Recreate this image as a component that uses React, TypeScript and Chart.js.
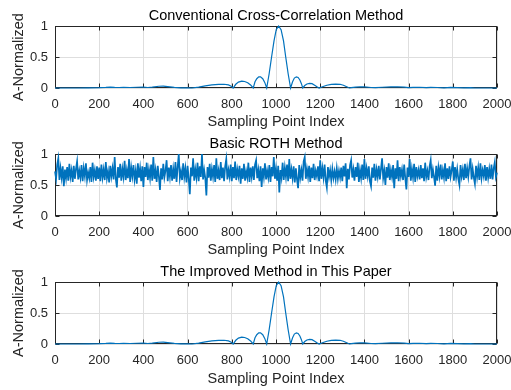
import React, { useEffect, useRef } from "react";
import { Chart, registerables } from "chart.js";

Chart.register(...registerables);

const FONT = 'Arial, "Liberation Sans", Helvetica, sans-serif';

// Sample index for sinc-like correlation curves (sparse)
const ccIndex = [0, 100, 150, 200, 230, 250, 270, 290, 310, 340, 370, 400, 420, 440, 470, 490, 510, 540, 570, 600,
  620, 650, 680, 710, 740, 765, 785, 797, 806, 818, 830, 845, 858, 872, 885, 897, 905, 913, 922, 930,
  940, 949, 958, 969, 980, 991, 1001, 1012, 1023, 1034, 1044, 1055, 1066, 1075, 1083, 1092, 1100, 1108, 1115, 1121,
  1130, 1140, 1152, 1163, 1175, 1187, 1195, 1210, 1230, 1250, 1270, 1290, 1305, 1320, 1332, 1340, 1360, 1380, 1400, 1430,
  1450, 1480, 1520, 1550, 1580, 1600, 1620, 1650, 1680, 1700, 1730, 1760, 1790, 1820, 1850, 1880, 1900, 2000];

const conventionalValues = [0, 0, 0.002, 0.005, 0.01, 0.015, 0.01, 0.008, 0.012, 0.008, 0.012, 0.015, 0.008, 0.015, 0.028, 0.03, 0.022, 0.01, 0.003, 0.002,
  0, 0.015, 0.035, 0.05, 0.058, 0.06, 0.05, 0.03, 0, 0.06, 0.095, 0.11, 0.105, 0.085, 0.05, 0, 0.1, 0.15, 0.18, 0.18,
  0.15, 0.09, 0, 0.23, 0.5, 0.76, 0.94, 1, 0.94, 0.76, 0.5, 0.23, 0, 0.1, 0.16, 0.18, 0.17, 0.13, 0.07, 0,
  0.04, 0.065, 0.075, 0.07, 0.045, 0.015, 0, 0.02, 0.045, 0.058, 0.062, 0.06, 0.045, 0.02, 0, 0.005, 0.015, 0.02, 0.018, 0.008,
  0.005, 0.012, 0.018, 0.02, 0.015, 0.005, 0.01, 0.012, 0.005, 0.01, 0.008, 0.003, 0.01, 0.007, 0.003, 0.005, 0, 0];

const improvedValues = [0, 0, 0.002, 0.005, 0.01, 0.015, 0.01, 0.008, 0.012, 0.008, 0.012, 0.015, 0.008, 0.015, 0.028, 0.03, 0.022, 0.01, 0.003, 0.002,
  0, 0.015, 0.035, 0.05, 0.058, 0.06, 0.05, 0.03, 0, 0.06, 0.095, 0.11, 0.105, 0.085, 0.05, 0, 0.1, 0.15, 0.18, 0.18,
  0.15, 0.09, 0, 0.23, 0.5, 0.76, 0.94, 1, 0.94, 0.76, 0.5, 0.23, 0, 0.1, 0.16, 0.18, 0.17, 0.13, 0.07, 0,
  0.04, 0.065, 0.075, 0.07, 0.045, 0.015, 0, 0.02, 0.045, 0.058, 0.062, 0.06, 0.045, 0.02, 0, 0.005, 0.015, 0.02, 0.018, 0.008,
  0.005, 0.012, 0.018, 0.02, 0.015, 0.005, 0.01, 0.012, 0.005, 0.01, 0.008, 0.003, 0.01, 0.007, 0.003, 0.005, 0, 0];

// Basic ROTH: one value per 5 samples (0..2000)
const ROTH_STEP = 5;
const rothValues = [
  0.72, 0.60, 0.83, 0.93, 0.58, 0.77, 0.62, 0.80, 0.48, 0.75, 0.61, 0.79, 0.57, 0.84, 0.63, 0.74, 0.55, 0.81, 0.60, 0.76,
  0.88, 0.59, 0.73, 0.62, 0.82, 0.56, 0.77, 0.64, 0.85, 0.58, 0.70, 0.61, 0.79, 0.55, 0.86, 0.63, 0.74, 0.57, 0.80, 0.60,
  0.78, 0.56, 0.83, 0.62, 0.75, 0.58, 0.87, 0.61, 0.72, 0.54, 0.81, 0.64, 0.77, 0.59, 0.95, 0.60, 0.46, 0.79, 0.62, 0.84,
  0.57, 0.76, 0.63, 0.89, 0.58, 0.74, 0.61, 0.92, 0.55, 0.78, 0.64, 0.82, 0.59, 0.73, 0.52, 0.85, 0.62, 0.77, 0.56, 0.80,
  0.47, 0.79, 0.63, 0.86, 0.58, 0.75, 0.61, 0.83, 0.57, 0.95, 0.60, 0.74, 0.55, 0.81, 0.64, 0.42, 0.77, 0.59, 0.84, 0.62,
  0.73, 0.90, 0.56, 0.78, 0.63, 0.82, 0.57, 0.76, 0.60, 0.87, 0.55, 0.79, 1.00, 0.61, 0.72, 0.58, 0.85, 0.63, 0.77, 0.54,
  0.81, 0.60, 0.35, 0.78, 0.64, 0.93, 0.57, 0.75, 0.62, 0.86, 0.56, 0.80, 0.63, 1.00, 0.59, 0.74, 0.61, 0.33, 0.79, 0.62,
  0.84, 0.57, 0.76, 0.63, 0.82, 0.55, 0.93, 0.60, 0.73, 0.58, 0.87, 0.61, 0.78, 0.56, 0.80, 0.92, 0.59, 0.74, 0.63, 0.83,
  0.56, 0.79, 0.61, 0.88, 0.58, 0.75, 0.64, 0.81, 0.52, 0.77, 0.60, 0.84, 0.57, 0.72, 0.62, 0.86, 0.55, 0.78, 0.63, 0.80,
  0.58, 0.83, 0.90, 0.61, 0.74, 0.56, 0.80, 0.47, 0.77, 0.63, 0.85, 0.59, 0.73, 0.62, 0.82, 0.55, 0.79, 0.64, 0.95, 0.60,
  0.76, 0.57, 0.81, 0.38, 0.74, 0.62, 0.86, 0.58, 0.78, 0.63, 0.83, 0.56, 0.92, 0.60, 0.75, 0.61, 0.80, 0.54, 0.77, 0.59,
  0.45, 0.82, 0.62, 0.74, 0.57, 0.88, 0.95, 0.60, 0.76, 0.63, 0.81, 0.55, 0.78, 0.61, 0.84, 0.58, 0.73, 0.64, 0.80, 0.56,
  0.90, 0.60, 0.77, 0.62, 0.83, 0.57, 0.46, 0.79, 0.63, 0.74, 0.58, 0.76, 0.61, 0.72, 0.59, 0.77, 0.60, 0.73, 0.62, 0.78,
  0.56, 0.81, 0.64, 0.85, 0.45, 0.76, 0.59, 0.82, 0.90, 0.62, 0.75, 0.57, 0.79, 0.63, 0.86, 0.55, 0.74, 0.61, 0.83, 0.58,
  0.92, 0.60, 0.77, 0.64, 0.80, 0.56, 0.48, 0.78, 0.62, 0.84, 0.57, 0.75, 0.63, 0.81, 0.59, 0.76, 0.93, 0.61, 0.73, 0.50,
  0.79, 0.62, 0.85, 0.58, 0.74, 0.63, 0.82, 0.45, 0.77, 0.60, 0.90, 0.56, 0.79, 0.64, 0.75, 0.58, 0.83, 0.61, 0.43, 0.78,
  0.63, 0.92, 0.57, 0.76, 0.62, 0.84, 0.55, 0.79, 0.64, 0.74, 0.59, 0.82, 0.61, 0.77, 0.56, 0.86, 0.63, 0.73, 0.58, 0.80,
  0.90, 0.61, 0.75, 0.63, 0.49, 0.81, 0.57, 0.78, 0.64, 0.83, 0.59, 0.74, 0.62, 0.85, 0.56, 0.77, 0.60, 0.80, 0.63, 0.74,
  0.88, 0.57, 0.79, 0.62, 0.76, 0.60, 0.50, 0.82, 0.64, 0.75, 0.58, 0.84, 0.61, 0.77, 0.63, 0.80, 0.93, 0.59, 0.76, 0.62,
  0.52, 0.81, 0.63, 0.78, 0.58, 0.85, 0.61, 0.74, 0.64, 0.82, 0.57, 0.79, 0.62, 0.76, 0.60, 0.83, 0.59, 0.77, 0.87, 0.63,
  0.70,
];
const rothIndex = rothValues.map((_, i) => i * ROTH_STEP);

const TITLES = [
  "Conventional Cross-Correlation Method",
  "Basic ROTH Method",
  "The Improved Method in This Paper",
];
const X_LABEL = "Sampling Point Index";
const Y_LABEL = "A-Normalized";
const X_MIN = 0, X_MAX = 2000, X_STEP = 200;
const Y_MIN = 0, Y_MAX = 1, Y_STEP = 0.5;

const LINE_COLOR = "#0072BD";
const AXIS_COLOR = "#262626";
const GRID_COLOR = "#dedede";

const framePlugin = {
  id: "matlabFrame",
  beforeDatasetsDraw(chart: any) {
    const { ctx, chartArea } = chart;
    const l = Math.round(chartArea.left) + 0.5;
    const r = Math.round(chartArea.right) - 0.5;
    const t = Math.round(chartArea.top) + 0.5;
    const b = Math.round(chartArea.bottom) - 0.5;
    ctx.save();
    ctx.strokeStyle = AXIS_COLOR;
    ctx.lineWidth = 1;
    ctx.strokeRect(l, t, r - l, b - t);
    const tl = 4;
    ctx.beginPath();
    const xs = chart.scales.x;
    xs.ticks.forEach((tk: any) => {
      const px = Math.round(xs.getPixelForValue(tk.value)) + 0.5;
      ctx.moveTo(px, b); ctx.lineTo(px, b - tl);
      ctx.moveTo(px, t); ctx.lineTo(px, t + tl);
    });
    const ys = chart.scales.y;
    ys.ticks.forEach((tk: any) => {
      const py = Math.round(ys.getPixelForValue(tk.value)) + 0.5;
      ctx.moveTo(l, py); ctx.lineTo(l + tl, py);
      ctx.moveTo(r, py); ctx.lineTo(r - tl, py);
    });
    ctx.stroke();
    ctx.restore();
  },
  afterDraw(chart: any, _args: any, opts: any) {
    const { ctx, chartArea } = chart;
    ctx.save();
    ctx.fillStyle = "#000000";
    ctx.font = `14.5px ${FONT}`;
    ctx.textAlign = "center";
    ctx.textBaseline = "middle";
    ctx.fillText(opts.text || "", (chartArea.left + chartArea.right) / 2, chartArea.top - 10.5);
    ctx.restore();
  },
};

function Panel(props: { top: number; height: number; title: string; xs: number[]; ys: number[]; titlePad: number; lineWidth: number }) {
  const ref = useRef<HTMLCanvasElement>(null);
  useEffect(() => {
    const canvas = ref.current!;
    const chart = new Chart(canvas, {
      type: "line",
      data: {
        datasets: [
          {
            data: props.xs.map((x, i) => ({ x, y: props.ys[i] })),
            borderColor: LINE_COLOR,
            borderWidth: props.lineWidth,
            pointRadius: 0,
            tension: 0,
            fill: false,
            clip: 4,
          } as any,
        ],
      },
      options: {
        animation: false,
        responsive: false,
        devicePixelRatio: 1,
        events: [],
        layout: { padding: { top: 26, right: 14, bottom: 0, left: 0 } },
        plugins: {
          legend: { display: false },
          tooltip: { enabled: false },
          title: { display: false },
          matlabFrame: { text: props.title },
        } as any,
        scales: {
          x: {
            type: "linear",
            min: X_MIN,
            max: X_MAX,
            ticks: {
              stepSize: X_STEP,
              padding: 9,
              color: AXIS_COLOR,
              font: { family: FONT, size: 13 },
              maxRotation: 0,
              autoSkip: false,
              callback: (v: any) => String(v),
            },
            grid: { color: GRID_COLOR, drawTicks: false, lineWidth: 1 },
            border: { display: false },
            title: {
              display: true,
              text: X_LABEL,
              color: AXIS_COLOR,
              font: { family: FONT, size: 14.5 },
              padding: { top: 0, bottom: props.titlePad },
            },
            afterFit: (s: any) => { s.height = 46; s.paddingRight = 0; s.paddingLeft = 0; },
          },
          y: {
            type: "linear",
            min: Y_MIN,
            max: Y_MAX,
            ticks: {
              stepSize: Y_STEP,
              padding: 7,
              color: AXIS_COLOR,
              font: { family: FONT, size: 13 },
              callback: (v: any) => String(v),
            },
            grid: { color: GRID_COLOR, drawTicks: false, lineWidth: 1 },
            border: { display: false },
            title: {
              display: true,
              text: Y_LABEL,
              color: AXIS_COLOR,
              font: { family: FONT, size: 14.5 },
              padding: { top: 10, bottom: 0 },
            },
            afterFit: (s: any) => { s.width = 55; s.paddingTop = 0; s.paddingBottom = 0; },
          },
        },
      } as any,
      plugins: [framePlugin],
    });
    return () => chart.destroy();
  }, []);
  return (
    <canvas
      ref={ref}
      width={511}
      height={props.height}
      style={{ position: "absolute", left: 0, top: props.top, width: 511, height: props.height, display: "block" }}
    />
  );
}

export default function App() {
  return (
    <div style={{ position: "fixed", left: 0, top: 0, width: 511, height: 390, background: "#ffffff", overflow: "hidden" }}>
      <Panel top={0} height={134} title={TITLES[0]} xs={ccIndex} ys={conventionalValues} titlePad={3} lineWidth={1.2} />
      <Panel top={128} height={134} title={TITLES[1]} xs={rothIndex} ys={rothValues} titlePad={3} lineWidth={1.7} />
      <Panel top={256} height={134} title={TITLES[2]} xs={ccIndex} ys={improvedValues} titlePad={2} lineWidth={1.2} />
    </div>
  );
}
